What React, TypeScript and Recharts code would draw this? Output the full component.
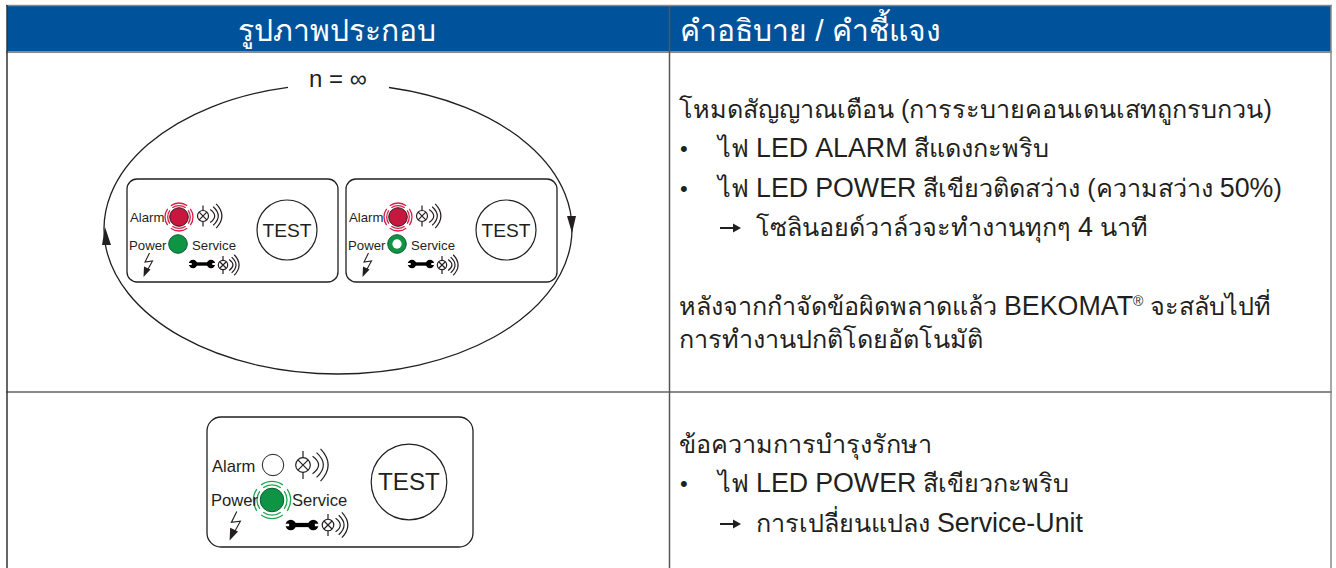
import React from 'react';
import { ScatterChart, Scatter, XAxis, YAxis, ReferenceArea, ReferenceLine } from 'recharts';

const W = 1336, H = 568;
const FONT = '"Liberation Sans", Arial, "Noto Sans", sans-serif';
const DARK = '#231f20';

// header + body text
const headerTexts = ['รูปภาพประกอบ', 'คำอธิบาย / คำชี้แจง'];
const headerX = [337, 680];
const headerY = [41, 41];

const bodyTexts = [
  'โหมดสัญญาณเตือน (การระบายคอนเดนเสทถูกรบกวน)', 'ไฟ LED ALARM สีแดงกะพริบ',
  'ไฟ LED POWER สีเขียวติดสว่าง (ความสว่าง 50%)', 'โซลินอยด์วาล์วจะทำงานทุกๆ 4 นาที',
  'หลังจากกำจัดข้อผิดพลาดแล้ว BEKOMAT® จะสลับไปที่', 'การทำงานปกติโดยอัตโนมัติ',
  'ข้อความการบำรุงรักษา', 'ไฟ LED POWER สีเขียวกะพริบ', 'การเปลี่ยนแปลง Service-Unit',
];
const bodyX = [679, 718, 718, 756, 679, 679, 679, 718, 756];
const bodyY = [118, 157, 197, 236, 315, 348, 453, 492, 532];
const bulletX = [680, 680, 680];
const bulletY = [156, 196, 491];

// diagram labels
const smallLabels = ['Alarm', 'Power', 'Service', 'Alarm', 'Power', 'Service'];
const smallLabelX = [130, 129, 192, 349, 348, 411];
const smallLabelY = [222, 250, 250, 222, 250, 250];
const bigLabels = ['Alarm', 'Power', 'Service'];
const bigLabelX = [212, 211, 292];
const bigLabelY = [472, 506, 506];

const testX = [287, 506, 409];
const testY = [230, 230, 482];
const testScale = [1, 1, 1.26];

const panelX = [127, 346, 207];
const panelY = [179, 179, 417];
const panelW = [211, 211, 266];
const panelH = [103, 103, 130];
const panelR = [10, 10, 14];

const ledX = [179, 178, 398, 397, 273, 272];
const ledY = [217, 244, 217, 244, 465, 500];
const ledR = [9.3, 9.3, 9.3, 9.3, 10.7, 11.8];
const ledKind = ['red', 'green', 'red', 'hollow', 'off', 'green'];
const ringX = [179, 398, 272];
const ringY = [217, 217, 500];
const ringKind = ['red', 'red', 'green'];
const ringScale = [1, 1, 1.33];

const lampX = [203, 223, 422, 442, 303, 328];
const lampY = [216, 265, 216, 265, 465, 525];
const lampScale = [1, 0.85, 1, 0.85, 1.33, 1.05];

const wrenchX = [202, 421, 302];
const wrenchY = [264, 264, 525];
const wrenchScale = [1, 1, 1.25];

const boltX = [148, 367, 235];
const boltY = [265, 265, 526];
const boltScale = [1, 1, 1.2];

const arrowX = [720, 720];
const arrowY = [228, 524];

const loopCenter = [{ x: 338, y: 229 }];

const zip = (xs: number[], ys: number[], extra: (i: number) => object = () => ({})) =>
  xs.map((x, i) => ({ x, y: ys[i], ...extra(i) }));

const headerData = zip(headerX, headerY, (i) => ({ text: headerTexts[i], anchor: i === 0 ? 'middle' : 'start' }));
const bodyData = zip(bodyX, bodyY, (i) => ({ text: bodyTexts[i] }));
const bulletData = zip(bulletX, bulletY, () => ({ text: '•' }));
const smallData = zip(smallLabelX, smallLabelY, (i) => ({ text: smallLabels[i] }));
const bigData = zip(bigLabelX, bigLabelY, (i) => ({ text: bigLabels[i] }));
const testData = zip(testX, testY, (i) => ({ s: testScale[i] }));
const panelData = zip(panelX, panelY, (i) => ({ w: panelW[i], h: panelH[i], r: panelR[i] }));
const ledData = zip(ledX, ledY, (i) => ({ r: ledR[i], kind: ledKind[i] }));
const ringData = zip(ringX, ringY, (i) => ({ kind: ringKind[i], s: ringScale[i] }));
const lampData = zip(lampX, lampY, (i) => ({ s: lampScale[i] }));
const wrenchData = zip(wrenchX, wrenchY, (i) => ({ s: wrenchScale[i] }));
const boltData = zip(boltX, boltY, (i) => ({ s: boltScale[i] }));
const arrowData = zip(arrowX, arrowY);
const nData = [{ x: 309, y: 87, text: 'n = ∞' }];

const RED = '#c8173f', GREEN = '#0f9345', RING: any = { red: '#d91c47', green: '#1fa650' };

const HeaderText = ({ cx, cy, payload }: any) => (
  <text x={cx} y={cy} fontFamily={FONT} fontSize={30} fill="#fff" textAnchor={payload.anchor}>{payload.text}</text>
);
const BodyText = ({ cx, cy, payload }: any) => {
  const tokens = String(payload.text).split(/([A-Za-z0-9%\-]+|®)/).filter(Boolean);
  let back = 0;
  return (
    <text x={cx} y={cy} fontFamily={FONT} fill={DARK}>
      {tokens.map((t, i) => {
        const dy = t === '®' ? -9 : back;
        back = t === '®' ? 9 : 0;
        const size = t === '®' ? 14 : /[A-Za-z0-9%\-]/.test(t) ? 26.8 : 25.2;
        return <tspan key={i} fontSize={size} dy={dy}>{t}</tspan>;
      })}
    </text>
  );
};
const labelText = (size: number) => ({ cx, cy, payload }: any) => (
  <text x={cx} y={cy} fontFamily={FONT} fontSize={size} fill={DARK}>{payload.text}</text>
);
const Panel = ({ cx, cy, payload }: any) => (
  <rect x={cx} y={cy} width={payload.w} height={payload.h} rx={payload.r} fill="#fff" stroke={DARK} strokeWidth={1.3} />
);
const TestBtn = ({ cx, cy, payload }: any) => (
  <g>
    <circle cx={cx} cy={cy} r={30 * payload.s} fill="none" stroke={DARK} strokeWidth={1.2} />
    <text x={cx} y={cy + 6.7 * payload.s} fontFamily={FONT} fontSize={19.2 * payload.s} textAnchor="middle" fill={DARK}>TEST</text>
  </g>
);
const Led = ({ cx, cy, payload }: any) => {
  const { r, kind } = payload;
  const fill = kind === 'red' ? RED : kind === 'off' ? '#fff' : GREEN;
  return (
    <g>
      <circle cx={cx} cy={cy} r={r} fill={fill} stroke={kind === 'off' || kind === 'red' ? DARK : '#0b5c30'} strokeWidth={1} />
      {kind === 'hollow' && <circle cx={cx} cy={cy} r={r * 0.5} fill="#fff" />}
    </g>
  );
};
const Rings = ({ cx, cy, payload }: any) => (
  <g fill="none" stroke={RING[payload.kind]} strokeWidth={1.3}>
    {[11.3, 14].map((r) => (
      <circle key={r} cx={cx} cy={cy} r={r * payload.s} pathLength={100} strokeDasharray="20 5" strokeDashoffset={10} />
    ))}
  </g>
);
const Lamp = ({ cx, cy, payload }: any) => {
  const s = payload.s, r = 5.5 * s, d = r * 0.7;
  return (
    <g fill="none" stroke={DARK} strokeWidth={1.2}>
      <circle cx={cx} cy={cy} r={r} />
      <path d={`M${cx - d},${cy - d}L${cx + d},${cy + d}M${cx - d},${cy + d}L${cx + d},${cy - d}`} />
      <path d={`M${cx},${cy - 10.5 * s}V${cy - r}M${cx},${cy + r}V${cy + 10.5 * s}`} />
      {[0, 1, 2].map((k) => {
        const x0 = cx + (7.2 + 3 * k) * s, h = (6.5 + 2.8 * k) * s, b = (4.5 + 0.6 * k) * s;
        return <path key={k} d={`M${x0},${cy - h}Q${x0 + b * 2},${cy} ${x0},${cy + h}`} strokeWidth={1.2} />;
      })}
    </g>
  );
};
const Wrench = ({ cx, cy, payload }: any) => {
  const s = payload.s;
  return (
    <g fill="#000">
      <rect x={cx - 9 * s} y={cy - 1.7 * s} width={18 * s} height={3.4 * s} />
      <circle cx={cx - 9 * s} cy={cy} r={4.2 * s} />
      <circle cx={cx + 9 * s} cy={cy} r={4.2 * s} />
      <rect x={cx - 13.5 * s} y={cy - 1 * s} width={3.2 * s} height={2 * s} fill="#fff" />
      <rect x={cx + 10.3 * s} y={cy - 1 * s} width={3.2 * s} height={2 * s} fill="#fff" />
    </g>
  );
};
const Bolt = ({ cx, cy, payload }: any) => {
  const s = payload.s;
  const P = (x: number, y: number) => `${cx + x * s},${cy + y * s}`;
  return (
    <g>
      <polyline points={[P(1.5, -12), P(-3, -3), P(4.5, -4), P(-0.5, 5)].join(' ')} fill="none" stroke={DARK} strokeWidth={1.1} />
      <polygon points={[P(-4.5, 12), P(-4, 1.5), P(2.5, 4.5)].join(' ')} fill={DARK} />
    </g>
  );
};
const Arrow = ({ cx, cy }: any) => (
  <g>
    <rect x={cx} y={cy - 1} width={16} height={2} fill={DARK} />
    <polygon points={`${cx + 13},${cy - 4.5} ${cx + 21},${cy} ${cx + 13},${cy + 4.5}`} fill={DARK} />
  </g>
);
const Loop = ({ cx, cy }: any) => {
  const rx = 234, ry = 145;
  const yAt = (x: number) => cy - ry * Math.sqrt(1 - ((x - cx) / rx) ** 2);
  const x1 = 288, x2 = 389;
  return (
    <g>
      <path
        d={`M${x2},${yAt(x2)}A${rx},${ry} 0 0 1 ${cx},${cy + ry}A${rx},${ry} 0 0 1 ${x1},${yAt(x1)}`}
        fill="none" stroke={DARK} strokeWidth={1.3}
      />
      <polygon points={`${cx + rx - 5},${cy - 13} ${cx + rx + 4},${cy - 13} ${cx + rx},${cy + 4}`} fill={DARK} />
      <polygon points={`${cx - rx - 2},${cy + 16} ${cx - rx + 7},${cy + 16} ${cx - rx + 1},${cy - 2}`} fill={DARK} />
    </g>
  );
};

const series: [any[], any][] = [
  [loopCenter, Loop],
  [panelData, Panel],
  [testData, TestBtn],
  [ringData, Rings],
  [ledData, Led],
  [lampData, Lamp],
  [wrenchData, Wrench],
  [boltData, Bolt],
  [arrowData, Arrow],
  [smallData, labelText(13.2)],
  [bigData, labelText(16.6)],
  [nData, labelText(24)],
  [bulletData, labelText(22)],
  [bodyData, BodyText],
  [headerData, HeaderText],
];

export default function App() {
  return (
    <div style={{ position: 'absolute', left: 0, top: 0 }}>
      <ScatterChart width={W} height={H} margin={{ top: 0, right: 0, bottom: 0, left: 0 }}>
        <XAxis type="number" dataKey="x" domain={[0, W]} hide allowDataOverflow />
        <YAxis type="number" dataKey="y" domain={[H, 0]} hide allowDataOverflow />
        <ReferenceArea x1={7} x2={1331} y1={6} y2={51} fill="#00539b" stroke="none" fillOpacity={1} />
        <ReferenceLine segment={[{ x: 6, y: 5.5 }, { x: 1332, y: 5.5 }]} stroke="#8a8a8a" strokeWidth={1.5} />
        <ReferenceLine segment={[{ x: 6, y: 52 }, { x: 1332, y: 52 }]} stroke="#8a8a8a" strokeWidth={2} />
        <ReferenceLine segment={[{ x: 6, y: 392 }, { x: 1332, y: 392 }]} stroke="#8a8a8a" strokeWidth={2} />
        <ReferenceLine segment={[{ x: 7, y: 5 }, { x: 7, y: H }]} stroke="#333" strokeWidth={1.5} />
        <ReferenceLine segment={[{ x: 669.5, y: 6 }, { x: 669.5, y: H }]} stroke="#555" strokeWidth={1.5} />
        <ReferenceLine segment={[{ x: 1331, y: 5 }, { x: 1331, y: H }]} stroke="#8a8a8a" strokeWidth={1.5} />
        {series.map(([data, shape], i) => (
          <Scatter key={i} data={data} shape={shape} isAnimationActive={false} />
        ))}
      </ScatterChart>
    </div>
  );
}
